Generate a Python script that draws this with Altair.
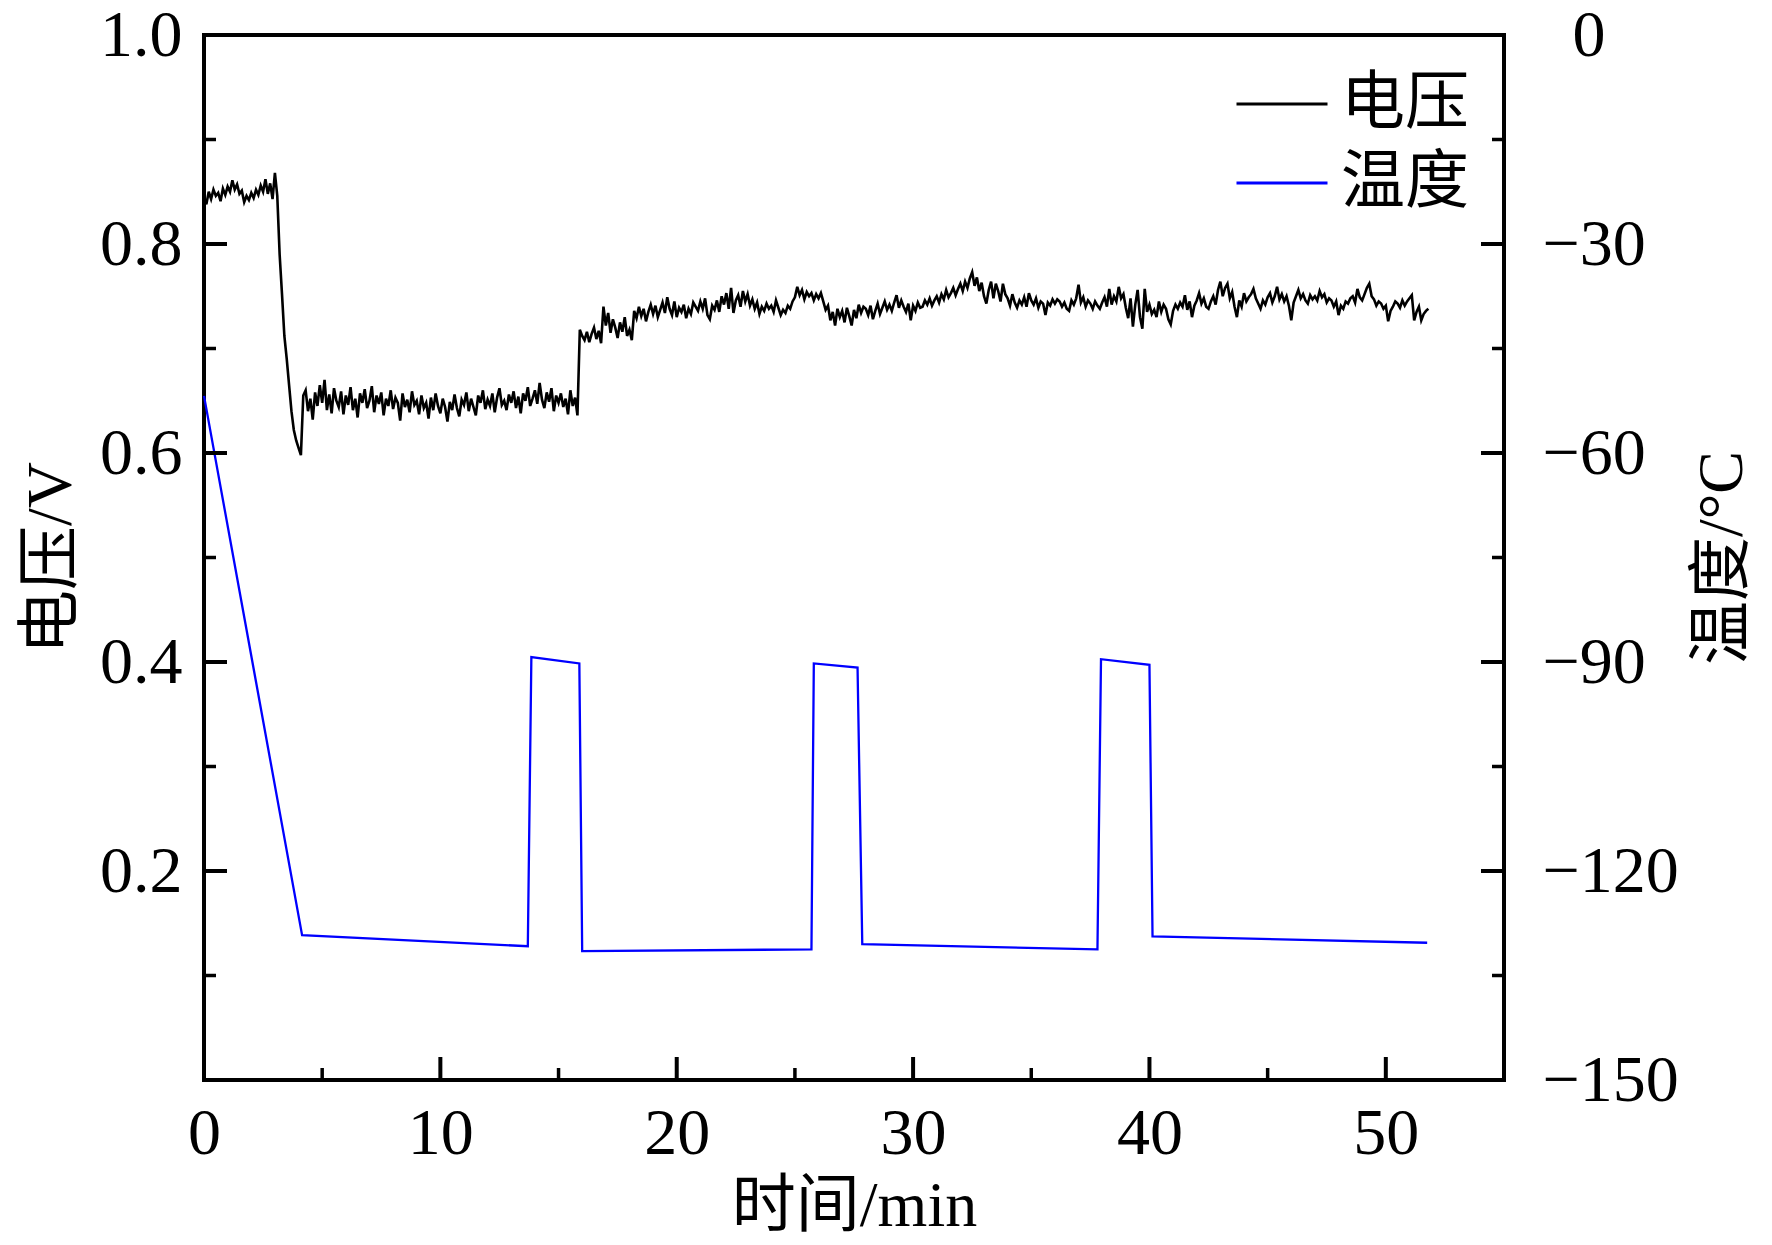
import altair as alt
import pandas as pd

# ---------------- data ----------------
# voltage (V), one sample every 0.1 min starting at t = 0
voltage_rows = [
    [0.845, 0.838, 0.850, 0.843, 0.852, 0.846, 0.849, 0.841, 0.853, 0.847],  # 0
    [0.855, 0.850, 0.861, 0.852, 0.857, 0.848, 0.851, 0.840, 0.846, 0.842],  # 1
    [0.849, 0.844, 0.852, 0.847, 0.856, 0.850, 0.862, 0.848, 0.858, 0.843],  # 2
    [0.868, 0.846, 0.790, 0.752, 0.712, 0.690, 0.665, 0.640, 0.622, 0.612],  # 3
    [0.605, 0.598, 0.655, 0.660, 0.640, 0.652, 0.632, 0.658, 0.645, 0.665],  # 4
    [0.648, 0.670, 0.641, 0.656, 0.638, 0.662, 0.650, 0.644, 0.659, 0.637],  # 5
    [0.655, 0.646, 0.663, 0.641, 0.652, 0.634, 0.657, 0.648, 0.661, 0.643],  # 6
    [0.650, 0.664, 0.639, 0.655, 0.647, 0.658, 0.636, 0.652, 0.645, 0.660],  # 7
    [0.642, 0.653, 0.648, 0.631, 0.657, 0.644, 0.651, 0.639, 0.659, 0.646],  # 8
    [0.650, 0.637, 0.655, 0.643, 0.648, 0.633, 0.653, 0.641, 0.657, 0.645],  # 9
    [0.638, 0.652, 0.644, 0.630, 0.649, 0.641, 0.656, 0.643, 0.635, 0.651],  # 10
    [0.646, 0.658, 0.640, 0.652, 0.644, 0.636, 0.655, 0.648, 0.660, 0.642],  # 11
    [0.651, 0.645, 0.657, 0.639, 0.653, 0.662, 0.646, 0.650, 0.641, 0.656],  # 12
    [0.648, 0.659, 0.643, 0.654, 0.638, 0.657, 0.650, 0.663, 0.645, 0.652],  # 13
    [0.660, 0.647, 0.667, 0.651, 0.643, 0.658, 0.649, 0.662, 0.640, 0.655],  # 14
    [0.648, 0.657, 0.644, 0.652, 0.637, 0.660, 0.645, 0.653, 0.636, 0.718],  # 15
    [0.712, 0.708, 0.716, 0.706, 0.714, 0.720, 0.709, 0.717, 0.705, 0.740],  # 16
    [0.722, 0.734, 0.715, 0.728, 0.720, 0.710, 0.725, 0.716, 0.730, 0.712],  # 17
    [0.718, 0.708, 0.736, 0.729, 0.740, 0.731, 0.738, 0.726, 0.735, 0.742],  # 18
    [0.733, 0.741, 0.730, 0.737, 0.744, 0.734, 0.749, 0.738, 0.732, 0.745],  # 19
    [0.730, 0.739, 0.735, 0.742, 0.729, 0.738, 0.733, 0.744, 0.740, 0.736],  # 20
    [0.745, 0.738, 0.748, 0.732, 0.728, 0.741, 0.737, 0.746, 0.735, 0.750],  # 21
    [0.742, 0.753, 0.738, 0.758, 0.734, 0.746, 0.751, 0.740, 0.755, 0.745],  # 22
    [0.752, 0.741, 0.747, 0.738, 0.744, 0.733, 0.740, 0.736, 0.743, 0.738],  # 23
    [0.741, 0.735, 0.746, 0.739, 0.732, 0.737, 0.734, 0.741, 0.738, 0.745],  # 24
    [0.749, 0.759, 0.751, 0.756, 0.747, 0.754, 0.750, 0.753, 0.746, 0.752],  # 25
    [0.748, 0.753, 0.745, 0.737, 0.741, 0.727, 0.735, 0.722, 0.738, 0.730],  # 26
    [0.736, 0.725, 0.739, 0.731, 0.722, 0.737, 0.729, 0.742, 0.734, 0.740],  # 27
    [0.738, 0.732, 0.741, 0.728, 0.736, 0.743, 0.733, 0.739, 0.745, 0.737],  # 28
    [0.742, 0.736, 0.744, 0.751, 0.739, 0.746, 0.740, 0.735, 0.743, 0.727],  # 29
    [0.741, 0.736, 0.744, 0.739, 0.740, 0.746, 0.742, 0.748, 0.741, 0.746],  # 30
    [0.750, 0.744, 0.752, 0.747, 0.756, 0.749, 0.753, 0.758, 0.751, 0.757],  # 31
    [0.762, 0.755, 0.764, 0.758, 0.767, 0.773, 0.760, 0.768, 0.755, 0.763],  # 32
    [0.750, 0.743, 0.756, 0.764, 0.748, 0.762, 0.755, 0.745, 0.762, 0.752],  # 33
    [0.748, 0.741, 0.752, 0.744, 0.739, 0.746, 0.742, 0.749, 0.740, 0.753],  # 34
    [0.746, 0.742, 0.748, 0.739, 0.745, 0.743, 0.732, 0.744, 0.741, 0.747],  # 35
    [0.743, 0.747, 0.745, 0.740, 0.744, 0.738, 0.736, 0.746, 0.742, 0.748],  # 36
    [0.761, 0.744, 0.749, 0.740, 0.746, 0.743, 0.738, 0.745, 0.741, 0.738],  # 37
    [0.744, 0.749, 0.740, 0.757, 0.742, 0.750, 0.745, 0.759, 0.748, 0.752],  # 38
    [0.739, 0.729, 0.748, 0.721, 0.742, 0.756, 0.730, 0.719, 0.757, 0.735],  # 39
    [0.742, 0.733, 0.737, 0.730, 0.745, 0.735, 0.742, 0.738, 0.728, 0.723],  # 40
    [0.736, 0.742, 0.738, 0.744, 0.740, 0.751, 0.737, 0.745, 0.730, 0.741],  # 41
    [0.746, 0.753, 0.743, 0.748, 0.740, 0.738, 0.745, 0.750, 0.742, 0.756],  # 42
    [0.764, 0.750, 0.758, 0.762, 0.748, 0.754, 0.740, 0.730, 0.746, 0.740],  # 43
    [0.753, 0.745, 0.749, 0.752, 0.757, 0.748, 0.743, 0.738, 0.746, 0.742],  # 44
    [0.749, 0.753, 0.744, 0.750, 0.759, 0.747, 0.752, 0.745, 0.750, 0.741],  # 45
    [0.727, 0.744, 0.750, 0.756, 0.748, 0.752, 0.746, 0.743, 0.751, 0.747],  # 46
    [0.750, 0.746, 0.755, 0.749, 0.752, 0.744, 0.748, 0.746, 0.740, 0.745],  # 47
    [0.732, 0.741, 0.738, 0.745, 0.743, 0.748, 0.750, 0.744, 0.757, 0.749],  # 48
    [0.746, 0.752, 0.758, 0.762, 0.750, 0.747, 0.741, 0.745, 0.743, 0.738],  # 49
    [0.741, 0.726, 0.736, 0.740, 0.745, 0.743, 0.739, 0.746, 0.741, 0.745],  # 50
    [0.748, 0.751, 0.727, 0.735, 0.740, 0.727, 0.733, 0.736, 0.738],         # 51
]
sample_step_min = 0.1
volt_values = [v for row in voltage_rows for v in row]
volt_time = [round(i * sample_step_min, 1) for i in range(len(volt_values))]

# temperature (°C) corner points
temp_time = [0.0, 4.15, 13.7, 13.85, 15.88, 16.0, 25.7, 25.8, 27.65, 27.85,
             37.8, 37.95, 40.0, 40.13, 51.75]
temp_values = [-51.8, -129.2, -130.8, -89.3, -90.2, -131.5, -131.25, -90.2, -90.8,
               -130.5, -131.25, -89.6, -90.4, -129.4, -130.3]

series_names = ["电压", "温度"]
series_colors = ["#000000", "#0000ff"]

x_labels = [0, 10, 20, 30, 40, 50]
x_major = [10, 20, 30, 40, 50]
x_minor = [5, 15, 25, 35, 45]
v_labels = [0.2, 0.4, 0.6, 0.8, 1.0]
v_major = [0.2, 0.4, 0.6, 0.8]
v_minor = [0.1, 0.3, 0.5, 0.7, 0.9]
t_labels_neg = [-150, -120, -90, -60, -30]
t_label_zero = [0]
t_major = [-120, -90, -60, -30]
t_minor = [-135, -105, -75, -45, -15]

# ---------------- chart ----------------
W, H = 1300, 1045
FONT = "Liberation Serif, Times New Roman, Noto Sans CJK SC, serif"
MAJ, MIN = 23, 12

df_v = pd.DataFrame({"t": volt_time, "v": volt_values, "series": series_names[0]})
df_t = pd.DataFrame({"t": temp_time, "T": temp_values, "series": series_names[1]})

xscale = alt.Scale(domain=[0, 55], nice=False, zero=False)
vscale = alt.Scale(domain=[0, 1], nice=False, zero=False)
tscale = alt.Scale(domain=[-150, 0], nice=False, zero=False)

x_axis = alt.Axis(values=x_labels, format="d", title="时间/min",
                  labelPadding=21, titlePadding=8, labelFlush=False)


def xenc(field="t"):
    return alt.X(f"{field}:Q", scale=xscale, axis=x_axis)


color = alt.Color(
    "series:N",
    scale=alt.Scale(domain=series_names, range=series_colors),
    legend=alt.Legend(
        title=None, orient="none", legendX=1031, legendY=22,
        symbolType="stroke", symbolSize=8281, symbolStrokeWidth=3,
        labelFont=FONT, labelFontSize=64, labelColor="black",
        labelOffset=12, rowPadding=-16, padding=0,
    ),
)

volt = alt.Chart(df_v).mark_line(strokeWidth=2.6).encode(
    x=xenc(),
    y=alt.Y("v:Q", scale=vscale, axis=alt.Axis(
        orient="left", values=v_labels, format=".1f", title="电压/V",
        labelPadding=22, titlePadding=16, labelBaseline="middle",
        labelFlush=False)),
    color=color,
)

temp = alt.Chart(df_t).mark_line(strokeWidth=2.3).encode(
    x=xenc(),
    y=alt.Y("T:Q", scale=tscale, axis=alt.Axis(
        orient="right", values=t_labels_neg, format="d", title="温度/°C",
        labelAlign="left", labelPadding=38, labelBaseline="middle",
        labelFlush=False,
        titleAngle=270, titleX=218, titleY=H / 2,
        titleAlign="center", titleBaseline="middle")),
    color=color,
)


def yticks(vals, scale, field, x0, x1, width, axis=None):
    return alt.Chart(pd.DataFrame({field: vals})).mark_rule(
        color="black", strokeWidth=width, strokeCap="butt").encode(
        y=alt.Y(f"{field}:Q", scale=scale, axis=axis),
        x=alt.value(x0), x2=alt.value(x1))


def xticks(vals, length, width):
    return alt.Chart(pd.DataFrame({"t": vals})).mark_rule(
        color="black", strokeWidth=width, strokeCap="butt").encode(
        x=xenc(),
        y=alt.value(H), y2=alt.value(H - length))


# the "0" label on the right sits where the digits of "−30" begin
zero_axis = alt.Axis(orient="right", values=t_label_zero, format="d", title=None,
                     labelAlign="left", labelPadding=68, labelBaseline="middle",
                     labelFlush=False)

layers = [
    volt, temp,
    yticks(v_major, vscale, "v", 0, MAJ, 4),
    yticks(v_minor, vscale, "v", 0, MIN, 3.5),
    yticks(t_major, tscale, "T", W - MAJ, W, 4),
    yticks(t_minor, tscale, "T", W - MIN, W, 3.5, axis=zero_axis),
    xticks(x_major, MAJ, 4),
    xticks(x_minor, MIN, 3.5),
]

chart = alt.layer(*layers).resolve_scale(y="independent").properties(
    width=W, height=H,
    padding={"left": 196, "top": 27, "right": 260, "bottom": 200},
    autosize=alt.AutoSizeParams(type="none"),
).configure_view(
    stroke="black", strokeWidth=4
).configure_axis(
    labelFont=FONT, titleFont=FONT, labelColor="black", titleColor="black",
    labelFontSize=66, titleFontSize=64, titleFontWeight="normal",
    grid=False, ticks=False, tickSize=0, domain=False,
)

chart.save("out.html", embed_options={"renderer": "svg", "actions": False})
